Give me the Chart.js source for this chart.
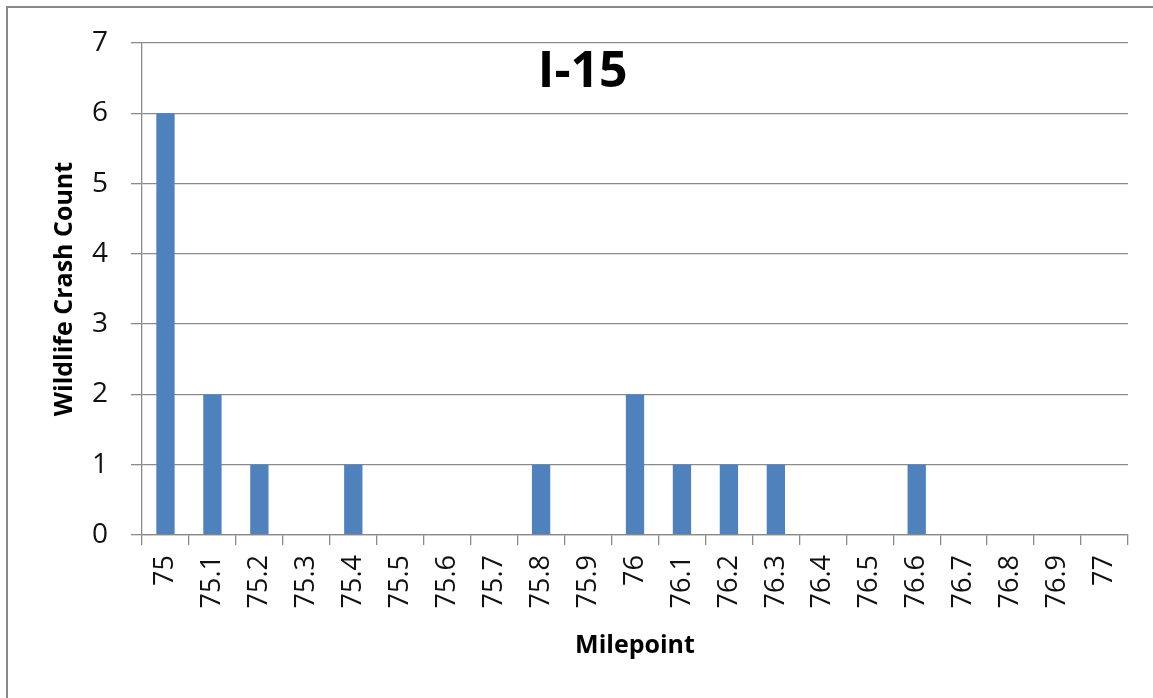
<!DOCTYPE html>
<html>
<head>
<meta charset="utf-8">
<script src="https://cdn.jsdelivr.net/npm/chart.js@4/dist/chart.umd.min.js"></script>
<style>
  html, body { margin: 0; padding: 0; background: #fff; overflow: hidden; }
  #frame { position: absolute; left: 6px; top: 6px; width: 1170px; height: 720px; border: 2px solid #8a8a8a; box-sizing: border-box; }
  #myChart { position: absolute; left: 0; top: 0; }
</style>
</head>
<body>
<div id="frame"></div>
<canvas id="myChart" width="1153" height="698"></canvas>
<script>
// milepoints along I-15
var milepoints = ['75', '75.1', '75.2', '75.3', '75.4', '75.5', '75.6', '75.7', '75.8', '75.9',
                  '76', '76.1', '76.2', '76.3', '76.4', '76.5', '76.6', '76.7', '76.8', '76.9', '77'];
var crashCounts = [6, 2, 1, 0, 1, 0, 0, 0, 1, 0, 2, 1, 1, 1, 0, 0, 1, 0, 0, 0, 0];
var yTicks = [0, 1, 2, 3, 4, 5, 6, 7];
var chartTitle = 'I-15';

var gridColor = '#8a8a8a';

// title sits inside the plot area, a bit left of centre
var insideTitle = {
    id: 'insideTitle',
    afterDraw: function (chart) {
        var area = chart.chartArea;
        var ctx = chart.ctx;
        ctx.save();
        ctx.font = 'bold 50px "Open Sans"';
        ctx.fillStyle = '#000';
        ctx.textAlign = 'center';
        ctx.textBaseline = 'alphabetic';
        ctx.fillText(chartTitle, area.left + (area.right - area.left) * 0.447, 87);
        ctx.restore();
    }
};

function renderChart() {
    var ctx = document.getElementById('myChart');
    new Chart(ctx, {
        type: 'bar',
        data: {
            labels: milepoints,
            datasets: [{
                label: 'Wildlife Crash Count',
                data: crashCounts,
                backgroundColor: '#4f81bd',
                borderWidth: 0,
                categoryPercentage: 1,
                barPercentage: 0.39
            }]
        },
        options: {
            responsive: false,
            animation: false,
            devicePixelRatio: 1,
            layout: { padding: { top: 43, right: 25, left: 0, bottom: 0 } },
            plugins: {
                legend: { display: false },
                title: { display: false },
                tooltip: { enabled: false }
            },
            scales: {
                x: {
                    grid: {
                        offset: true,
                        drawOnChartArea: false,
                        drawTicks: true,
                        tickLength: 10,
                        color: gridColor,
                        lineWidth: 1.3
                    },
                    border: { color: gridColor, width: 1.3 },
                    ticks: {
                        minRotation: 90,
                        maxRotation: 90,
                        autoSkip: false,
                        padding: 10,
                        color: '#111',
                        font: { family: 'Open Sans', size: 27 }
                    },
                    title: {
                        display: true,
                        text: 'Milepoint',
                        color: '#000',
                        font: { family: 'Open Sans', size: 25, weight: 'bold' },
                        padding: { top: 37, bottom: 37 }
                    },
                    afterFit: function (scale) { scale.height = 163; }
                },
                y: {
                    min: 0,
                    max: 7,
                    afterBuildTicks: function (scale) {
                        scale.ticks = yTicks.map(function (v) { return { value: v }; });
                    },
                    grid: {
                        color: gridColor,
                        lineWidth: 1.3,
                        drawTicks: true,
                        tickLength: 11
                    },
                    border: { color: gridColor, width: 1.3 },
                    ticks: {
                        padding: 23,
                        color: '#111',
                        font: { family: 'Open Sans', size: 28 }
                    },
                    title: {
                        display: true,
                        text: 'Wildlife Crash Count',
                        color: '#000',
                        font: { family: 'Open Sans', size: 25, weight: 'bold' },
                        padding: { top: 50, bottom: 0 }
                    },
                    afterFit: function (scale) { scale.width = 142; }
                }
            }
        },
        plugins: [insideTitle]
    });
}

window.onload = function () {
    renderChart();
};
</script>
</body>
</html>
